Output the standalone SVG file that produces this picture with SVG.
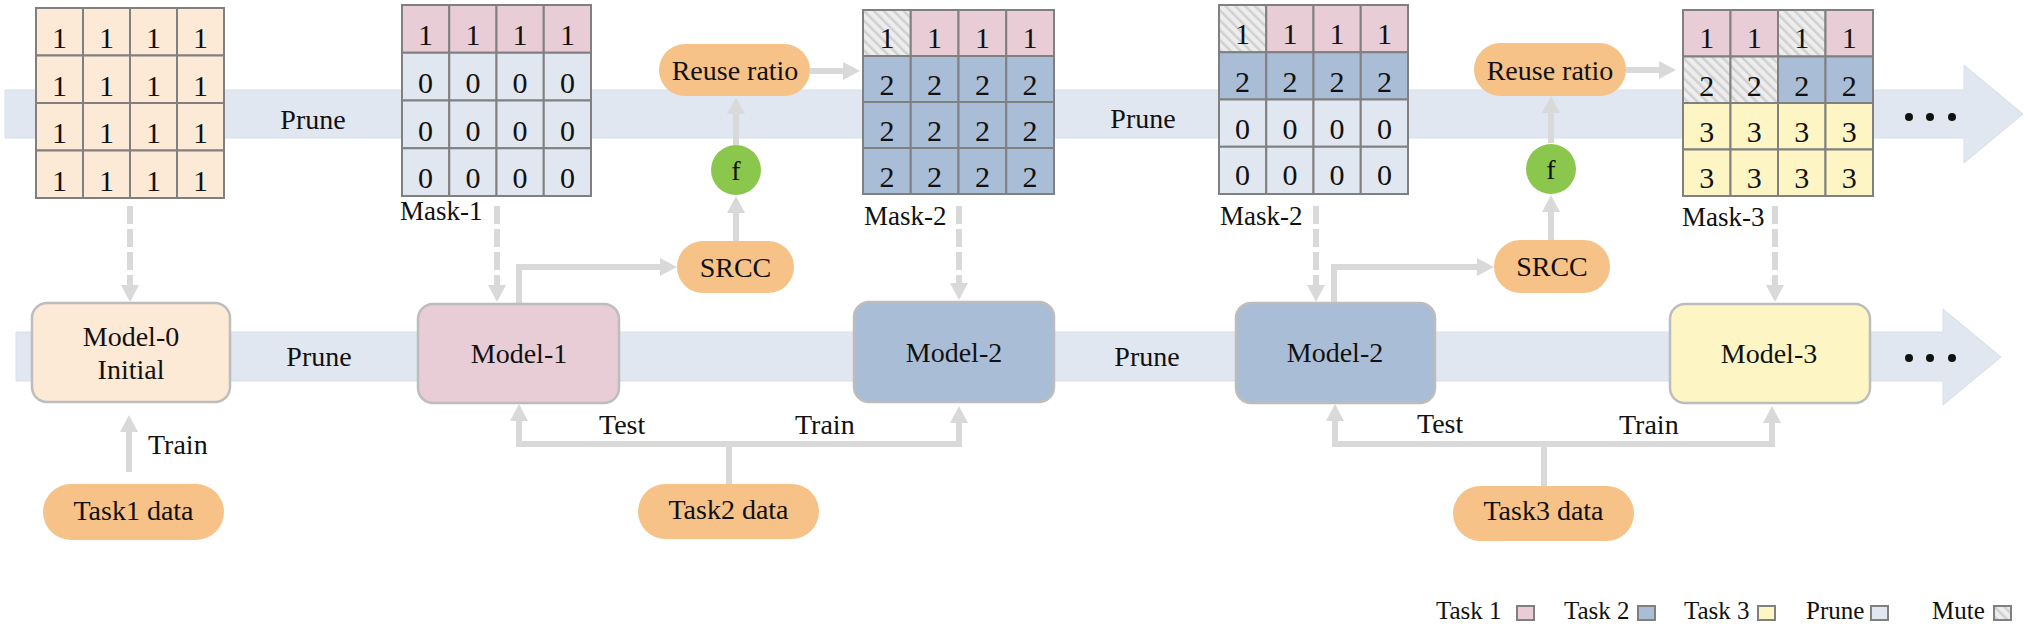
<svg xmlns="http://www.w3.org/2000/svg" width="2028" height="631" viewBox="0 0 2028 631">
<style>
.cell{stroke:#808080;stroke-width:2}
.peach{fill:#FCE9D6}.pink{fill:#E8CCD6}.prn{fill:#E1E7F0}.blue{fill:#AABDD6}.yel{fill:#FDF6C4}.mute{fill:url(#hatch)}
.num{font-family:"Liberation Serif",serif;font-size:30px;text-anchor:middle;fill:#111}
.lbl{font-family:"Liberation Serif",serif;font-size:28px;fill:#111}
.mid{text-anchor:middle}
.mask{font-size:27px}
.model{stroke:#BDBDBD;stroke-width:2.5}
.pill{fill:#F6C287}
.conn{fill:none;stroke:#D9D9D9;stroke-width:6}
.dash{stroke-dasharray:18 5}
.band{fill:#E1E7F0;stroke:#D8DFE9;stroke-width:1}
.leg{font-family:"Liberation Serif",serif;font-size:25px;fill:#111}
</style>
<defs>
<pattern id="hatch" width="7" height="7" patternUnits="userSpaceOnUse" patternTransform="rotate(-45)"><rect width="7" height="7" fill="#EDEDED"/><rect width="2.5" height="7" fill="#D0D0D0"/></pattern>
<marker id="ah" markerUnits="userSpaceOnUse" markerWidth="18" markerHeight="18" refX="0" refY="9" orient="auto"><path d="M0,0 L17,9 L0,18 z" fill="#D9D9D9"/></marker>
</defs>

<!-- background flow arrows -->
<g id="bands">
<path class="band" d="M5,90 H1964 V65 L2023,114 L1964,163 V138 H5 Z"/>
<path class="band" d="M16,332 H1943 V309 L2001,357 L1943,405 V381 H16 Z"/>
<circle cx="1909" cy="117" r="4" fill="#111"/><circle cx="1930" cy="117" r="4" fill="#111"/><circle cx="1952" cy="117" r="4" fill="#111"/>
<circle cx="1909" cy="358" r="4" fill="#111"/><circle cx="1930" cy="358" r="4" fill="#111"/><circle cx="1952" cy="358" r="4" fill="#111"/>
<text class="lbl mid" x="313" y="129">Prune</text>
<text class="lbl mid" x="1143" y="128">Prune</text>
<text class="lbl mid" x="319" y="366">Prune</text>
<text class="lbl mid" x="1147" y="366">Prune</text>
</g>

<!-- connectors -->
<g id="connectors">
<path class="conn dash" d="M130,206 V285" marker-end="url(#ah)"/>
<path class="conn dash" d="M497,206 V285" marker-end="url(#ah)"/>
<path class="conn dash" d="M959,206 V283" marker-end="url(#ah)"/>
<path class="conn dash" d="M1316,206 V285" marker-end="url(#ah)"/>
<path class="conn dash" d="M1775,206 V285" marker-end="url(#ah)"/>
<path class="conn" d="M129,472 V432" marker-end="url(#ah)"/>
<path class="conn" d="M519,303 V267 H660" marker-end="url(#ah)"/>
<path class="conn" d="M1334,303 V267 H1477" marker-end="url(#ah)"/>
<path class="conn" d="M736,241 V213" marker-end="url(#ah)"/>
<path class="conn" d="M736,145 V114" marker-end="url(#ah)"/>
<path class="conn" d="M810,71 H843" marker-end="url(#ah)"/>
<path class="conn" d="M1551,240 V212" marker-end="url(#ah)"/>
<path class="conn" d="M1551,143 V113" marker-end="url(#ah)"/>
<path class="conn" d="M1626,70 H1659" marker-end="url(#ah)"/>
<path class="conn" d="M729,484 V444"/>
<path class="conn" d="M729,444 H519 V421" marker-end="url(#ah)"/>
<path class="conn" d="M729,444 H959 V423" marker-end="url(#ah)"/>
<path class="conn" d="M1544,486 V444"/>
<path class="conn" d="M1544,444 H1335 V421" marker-end="url(#ah)"/>
<path class="conn" d="M1544,444 H1772 V423" marker-end="url(#ah)"/>
<text class="lbl" x="148" y="454">Train</text>
<text class="lbl" x="599" y="434">Test</text>
<text class="lbl" x="795" y="434">Train</text>
<text class="lbl" x="1417" y="433">Test</text>
<text class="lbl" x="1619" y="434">Train</text>
</g>

<!-- initial weights -->
<g id="grid0">
<rect class="cell peach" x="36" y="8" width="47" height="47.5"/><rect class="cell peach" x="83" y="8" width="47" height="47.5"/><rect class="cell peach" x="130" y="8" width="47" height="47.5"/><rect class="cell peach" x="177" y="8" width="47" height="47.5"/>
<rect class="cell peach" x="36" y="55.5" width="47" height="47.5"/><rect class="cell peach" x="83" y="55.5" width="47" height="47.5"/><rect class="cell peach" x="130" y="55.5" width="47" height="47.5"/><rect class="cell peach" x="177" y="55.5" width="47" height="47.5"/>
<rect class="cell peach" x="36" y="103" width="47" height="47.5"/><rect class="cell peach" x="83" y="103" width="47" height="47.5"/><rect class="cell peach" x="130" y="103" width="47" height="47.5"/><rect class="cell peach" x="177" y="103" width="47" height="47.5"/>
<rect class="cell peach" x="36" y="150.5" width="47" height="47.5"/><rect class="cell peach" x="83" y="150.5" width="47" height="47.5"/><rect class="cell peach" x="130" y="150.5" width="47" height="47.5"/><rect class="cell peach" x="177" y="150.5" width="47" height="47.5"/>
<text class="num" x="59.5" y="48">1</text><text class="num" x="106.5" y="48">1</text><text class="num" x="153.5" y="48">1</text><text class="num" x="200.5" y="48">1</text>
<text class="num" x="59.5" y="95.5">1</text><text class="num" x="106.5" y="95.5">1</text><text class="num" x="153.5" y="95.5">1</text><text class="num" x="200.5" y="95.5">1</text>
<text class="num" x="59.5" y="143">1</text><text class="num" x="106.5" y="143">1</text><text class="num" x="153.5" y="143">1</text><text class="num" x="200.5" y="143">1</text>
<text class="num" x="59.5" y="190.5">1</text><text class="num" x="106.5" y="190.5">1</text><text class="num" x="153.5" y="190.5">1</text><text class="num" x="200.5" y="190.5">1</text>
</g>

<!-- Mask-1 -->
<g id="mask1">
<rect class="cell pink" x="402" y="5" width="47.25" height="47.75"/><rect class="cell pink" x="449.25" y="5" width="47.25" height="47.75"/><rect class="cell pink" x="496.5" y="5" width="47.25" height="47.75"/><rect class="cell pink" x="543.75" y="5" width="47.25" height="47.75"/>
<rect class="cell prn" x="402" y="52.75" width="47.25" height="47.75"/><rect class="cell prn" x="449.25" y="52.75" width="47.25" height="47.75"/><rect class="cell prn" x="496.5" y="52.75" width="47.25" height="47.75"/><rect class="cell prn" x="543.75" y="52.75" width="47.25" height="47.75"/>
<rect class="cell prn" x="402" y="100.5" width="47.25" height="47.75"/><rect class="cell prn" x="449.25" y="100.5" width="47.25" height="47.75"/><rect class="cell prn" x="496.5" y="100.5" width="47.25" height="47.75"/><rect class="cell prn" x="543.75" y="100.5" width="47.25" height="47.75"/>
<rect class="cell prn" x="402" y="148.25" width="47.25" height="47.75"/><rect class="cell prn" x="449.25" y="148.25" width="47.25" height="47.75"/><rect class="cell prn" x="496.5" y="148.25" width="47.25" height="47.75"/><rect class="cell prn" x="543.75" y="148.25" width="47.25" height="47.75"/>
<text class="num" x="425.6" y="45">1</text><text class="num" x="472.9" y="45">1</text><text class="num" x="520.1" y="45">1</text><text class="num" x="567.4" y="45">1</text>
<text class="num" x="425.6" y="92.75">0</text><text class="num" x="472.9" y="92.75">0</text><text class="num" x="520.1" y="92.75">0</text><text class="num" x="567.4" y="92.75">0</text>
<text class="num" x="425.6" y="140.5">0</text><text class="num" x="472.9" y="140.5">0</text><text class="num" x="520.1" y="140.5">0</text><text class="num" x="567.4" y="140.5">0</text>
<text class="num" x="425.6" y="188.25">0</text><text class="num" x="472.9" y="188.25">0</text><text class="num" x="520.1" y="188.25">0</text><text class="num" x="567.4" y="188.25">0</text>
<text class="lbl mask" x="400" y="220">Mask-1</text>
</g>

<!-- Mask-2 -->
<g id="mask2">
<rect class="cell mute" x="863" y="10" width="47.75" height="46"/><rect class="cell pink" x="910.75" y="10" width="47.75" height="46"/><rect class="cell pink" x="958.5" y="10" width="47.75" height="46"/><rect class="cell pink" x="1006.25" y="10" width="47.75" height="46"/>
<rect class="cell blue" x="863" y="56" width="47.75" height="46"/><rect class="cell blue" x="910.75" y="56" width="47.75" height="46"/><rect class="cell blue" x="958.5" y="56" width="47.75" height="46"/><rect class="cell blue" x="1006.25" y="56" width="47.75" height="46"/>
<rect class="cell blue" x="863" y="102" width="47.75" height="46"/><rect class="cell blue" x="910.75" y="102" width="47.75" height="46"/><rect class="cell blue" x="958.5" y="102" width="47.75" height="46"/><rect class="cell blue" x="1006.25" y="102" width="47.75" height="46"/>
<rect class="cell blue" x="863" y="148" width="47.75" height="46"/><rect class="cell blue" x="910.75" y="148" width="47.75" height="46"/><rect class="cell blue" x="958.5" y="148" width="47.75" height="46"/><rect class="cell blue" x="1006.25" y="148" width="47.75" height="46"/>
<text class="num" x="886.9" y="47.5">1</text><text class="num" x="934.6" y="47.5">1</text><text class="num" x="982.4" y="47.5">1</text><text class="num" x="1030.1" y="47.5">1</text>
<text class="num" x="886.9" y="95">2</text><text class="num" x="934.6" y="95">2</text><text class="num" x="982.4" y="95">2</text><text class="num" x="1030.1" y="95">2</text>
<text class="num" x="886.9" y="141">2</text><text class="num" x="934.6" y="141">2</text><text class="num" x="982.4" y="141">2</text><text class="num" x="1030.1" y="141">2</text>
<text class="num" x="886.9" y="187">2</text><text class="num" x="934.6" y="187">2</text><text class="num" x="982.4" y="187">2</text><text class="num" x="1030.1" y="187">2</text>
<text class="lbl mask" x="864" y="225">Mask-2</text>
</g>

<!-- Mask-2 (after prune) -->
<g id="mask2b">
<rect class="cell mute" x="1219" y="5" width="47.25" height="47.25"/><rect class="cell pink" x="1266.25" y="5" width="47.25" height="47.25"/><rect class="cell pink" x="1313.5" y="5" width="47.25" height="47.25"/><rect class="cell pink" x="1360.75" y="5" width="47.25" height="47.25"/>
<rect class="cell blue" x="1219" y="52.25" width="47.25" height="47.25"/><rect class="cell blue" x="1266.25" y="52.25" width="47.25" height="47.25"/><rect class="cell blue" x="1313.5" y="52.25" width="47.25" height="47.25"/><rect class="cell blue" x="1360.75" y="52.25" width="47.25" height="47.25"/>
<rect class="cell prn" x="1219" y="99.5" width="47.25" height="47.25"/><rect class="cell prn" x="1266.25" y="99.5" width="47.25" height="47.25"/><rect class="cell prn" x="1313.5" y="99.5" width="47.25" height="47.25"/><rect class="cell prn" x="1360.75" y="99.5" width="47.25" height="47.25"/>
<rect class="cell prn" x="1219" y="146.75" width="47.25" height="47.25"/><rect class="cell prn" x="1266.25" y="146.75" width="47.25" height="47.25"/><rect class="cell prn" x="1313.5" y="146.75" width="47.25" height="47.25"/><rect class="cell prn" x="1360.75" y="146.75" width="47.25" height="47.25"/>
<text class="num" x="1242.6" y="44">1</text><text class="num" x="1289.9" y="44">1</text><text class="num" x="1337.1" y="44">1</text><text class="num" x="1384.4" y="44">1</text>
<text class="num" x="1242.6" y="92">2</text><text class="num" x="1289.9" y="92">2</text><text class="num" x="1337.1" y="92">2</text><text class="num" x="1384.4" y="92">2</text>
<text class="num" x="1242.6" y="138.5">0</text><text class="num" x="1289.9" y="138.5">0</text><text class="num" x="1337.1" y="138.5">0</text><text class="num" x="1384.4" y="138.5">0</text>
<text class="num" x="1242.6" y="185">0</text><text class="num" x="1289.9" y="185">0</text><text class="num" x="1337.1" y="185">0</text><text class="num" x="1384.4" y="185">0</text>
<text class="lbl mask" x="1220" y="225">Mask-2</text>
</g>

<!-- Mask-3 -->
<g id="mask3">
<rect class="cell pink" x="1683" y="10" width="47.5" height="46.5"/><rect class="cell pink" x="1730.5" y="10" width="47.5" height="46.5"/><rect class="cell mute" x="1778" y="10" width="47.5" height="46.5"/><rect class="cell pink" x="1825.5" y="10" width="47.5" height="46.5"/>
<rect class="cell mute" x="1683" y="56.5" width="47.5" height="46.5"/><rect class="cell mute" x="1730.5" y="56.5" width="47.5" height="46.5"/><rect class="cell blue" x="1778" y="56.5" width="47.5" height="46.5"/><rect class="cell blue" x="1825.5" y="56.5" width="47.5" height="46.5"/>
<rect class="cell yel" x="1683" y="103" width="47.5" height="46.5"/><rect class="cell yel" x="1730.5" y="103" width="47.5" height="46.5"/><rect class="cell yel" x="1778" y="103" width="47.5" height="46.5"/><rect class="cell yel" x="1825.5" y="103" width="47.5" height="46.5"/>
<rect class="cell yel" x="1683" y="149.5" width="47.5" height="46.5"/><rect class="cell yel" x="1730.5" y="149.5" width="47.5" height="46.5"/><rect class="cell yel" x="1778" y="149.5" width="47.5" height="46.5"/><rect class="cell yel" x="1825.5" y="149.5" width="47.5" height="46.5"/>
<text class="num" x="1706.75" y="47.5">1</text><text class="num" x="1754.25" y="47.5">1</text><text class="num" x="1801.75" y="47.5">1</text><text class="num" x="1849.25" y="47.5">1</text>
<text class="num" x="1706.75" y="96">2</text><text class="num" x="1754.25" y="96">2</text><text class="num" x="1801.75" y="96">2</text><text class="num" x="1849.25" y="96">2</text>
<text class="num" x="1706.75" y="141.5">3</text><text class="num" x="1754.25" y="141.5">3</text><text class="num" x="1801.75" y="141.5">3</text><text class="num" x="1849.25" y="141.5">3</text>
<text class="num" x="1706.75" y="187.5">3</text><text class="num" x="1754.25" y="187.5">3</text><text class="num" x="1801.75" y="187.5">3</text><text class="num" x="1849.25" y="187.5">3</text>
<text class="lbl mask" x="1682" y="226">Mask-3</text>
</g>

<!-- models -->
<g id="model0"><rect class="model peach" x="32" y="303" width="198" height="99" rx="15"/><text class="lbl mid" x="131" y="346">Model-0</text><text class="lbl mid" x="131" y="379">Initial</text></g>
<g id="model1"><rect class="model pink" x="418" y="304" width="201" height="99" rx="15"/><text class="lbl mid" x="519" y="363">Model-1</text></g>
<g id="model2"><rect class="model blue" x="854" y="302" width="200" height="100" rx="15"/><text class="lbl mid" x="954" y="362">Model-2</text></g>
<g id="model2b"><rect class="model blue" x="1236" y="303" width="199" height="100" rx="15"/><text class="lbl mid" x="1335" y="362">Model-2</text></g>
<g id="model3"><rect class="model yel" x="1670" y="304" width="200" height="99" rx="15"/><text class="lbl mid" x="1769" y="363">Model-3</text></g>

<!-- pills and function nodes -->
<g id="reuse1"><rect class="pill" x="659" y="44" width="151" height="52" rx="26"/><text class="lbl mid" x="735" y="80">Reuse ratio</text></g>
<g id="f1"><circle cx="736" cy="170" r="25" fill="#8AC74C"/><text class="lbl mid" x="736" y="180" font-size="32">f</text></g>
<g id="srcc1"><rect class="pill" x="677" y="241" width="117" height="52" rx="26"/><text class="lbl mid" x="735.5" y="277">SRCC</text></g>
<g id="reuse2"><rect class="pill" x="1474" y="43" width="152" height="53" rx="26.5"/><text class="lbl mid" x="1550" y="80">Reuse ratio</text></g>
<g id="f2"><circle cx="1551" cy="169" r="25" fill="#8AC74C"/><text class="lbl mid" x="1551" y="179" font-size="32">f</text></g>
<g id="srcc2"><rect class="pill" x="1494" y="240" width="116" height="53" rx="26.5"/><text class="lbl mid" x="1552" y="276">SRCC</text></g>
<g id="task1"><rect class="pill" x="43" y="484" width="181" height="56" rx="28"/><text class="lbl mid" x="133.5" y="520">Task1 data</text></g>
<g id="task2"><rect class="pill" x="638" y="484" width="181" height="55" rx="27.5"/><text class="lbl mid" x="728.5" y="519">Task2 data</text></g>
<g id="task3"><rect class="pill" x="1453" y="486" width="181" height="55" rx="27.5"/><text class="lbl mid" x="1543.5" y="520">Task3 data</text></g>

<!-- legend -->
<g id="legend">
<text class="leg" x="1436" y="619">Task 1</text><rect class="cell pink" x="1517" y="606" width="17" height="14"/>
<text class="leg" x="1564" y="619">Task 2</text><rect class="cell blue" x="1638" y="606" width="17" height="14"/>
<text class="leg" x="1684" y="619">Task 3</text><rect class="cell yel" x="1758" y="606" width="17" height="14"/>
<text class="leg" x="1806" y="619">Prune</text><rect class="cell prn" x="1871" y="606" width="17" height="14"/>
<text class="leg" x="1932" y="619">Mute</text><rect class="cell mute" x="1994" y="606" width="17" height="14"/>
</g>
</svg>
